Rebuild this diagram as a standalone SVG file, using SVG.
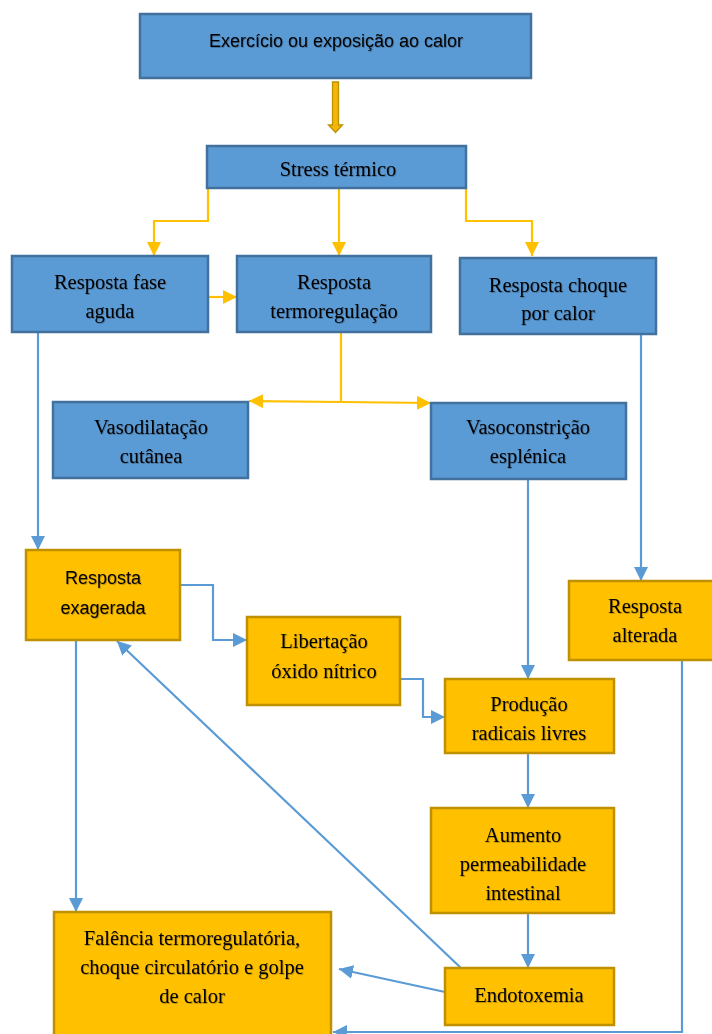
<svg xmlns="http://www.w3.org/2000/svg" width="712" height="1034" viewBox="0 0 712 1034">
<style>
.bb{fill:#5B9BD5;stroke:#41719C;stroke-width:2.5}
.yb{fill:#FFC000;stroke:#BF9000;stroke-width:2.5}
.t{font-family:"Liberation Serif","Times New Roman",serif;font-size:20.5px;fill:#000;text-anchor:middle;filter:url(#sh)}
.s{font-family:"Liberation Sans",Arial,sans-serif;font-size:18px;fill:#000;text-anchor:middle;filter:url(#sh)}
.yl{fill:none;stroke:#FFC000;stroke-width:2.2}
.bl{fill:none;stroke:#5B9BD5;stroke-width:2.2}
</style>
<defs>
<filter id="sh" x="-10%" y="-30%" width="120%" height="160%">
<feDropShadow dx="0.8" dy="0.8" stdDeviation="0.6" flood-color="#000" flood-opacity="0.3"/>
</filter>
<marker id="ay" markerUnits="userSpaceOnUse" markerWidth="14" markerHeight="14" viewBox="0 0 14 14" refX="14" refY="7" orient="auto-start-reverse">
<path d="M0,0 L14,7 L0,14 z" fill="#FFC000"/>
</marker>
<marker id="ab" markerUnits="userSpaceOnUse" markerWidth="14" markerHeight="14" viewBox="0 0 14 14" refX="14" refY="7" orient="auto-start-reverse">
<path d="M0,0 L14,7 L0,14 z" fill="#5B9BD5"/>
</marker>
</defs>
<rect width="712" height="1034" fill="#fff"/>

<g id="connectors">
<path d="M332.5,82 H338.5 V125 H342.5 L335.5,132.5 L328.5,125 H332.5 Z" fill="#F2B705" stroke="#BF9000" stroke-width="1.3"/>
<path class="yl" d="M208,188 V221 H154 V256" marker-end="url(#ay)"/>
<path class="yl" d="M339,188 V256" marker-end="url(#ay)"/>
<path class="yl" d="M466,188 V221 H532 V256" marker-end="url(#ay)"/>
<path class="yl" d="M208,297 H237" marker-end="url(#ay)"/>
<path class="yl" d="M341,332 V402"/>
<path class="yl" d="M249,401 L341,402 L431,403" marker-start="url(#ay)" marker-end="url(#ay)"/>
<path class="bl" d="M38,332 V550" marker-end="url(#ab)"/>
<path class="bl" d="M641,334 V581" marker-end="url(#ab)"/>
<path class="bl" d="M528,479 V679" marker-end="url(#ab)"/>
<path class="bl" d="M180,585 H213 V640 H247" marker-end="url(#ab)"/>
<path class="bl" d="M400,679 H423 V717 H445" marker-end="url(#ab)"/>
<path class="bl" d="M528,753 V808" marker-end="url(#ab)"/>
<path class="bl" d="M528,913 V968" marker-end="url(#ab)"/>
<path class="bl" d="M76,640 V912" marker-end="url(#ab)"/>
<path class="bl" d="M445,992 L339,969" marker-end="url(#ab)"/>
<path class="bl" d="M461,968 L117,641" marker-end="url(#ab)"/>
<path class="bl" d="M682,660 V1032 H333" marker-end="url(#ab)"/>
</g>

<g id="n-exercicio">
<rect class="bb" x="140" y="14" width="391" height="64"/>
<text class="s" x="336" y="47">Exercício ou exposição ao calor</text>
</g>
<g id="n-stress">
<rect class="bb" x="207" y="146" width="259" height="42"/>
<text class="t" x="338" y="176">Stress térmico</text>
</g>
<g id="n-fase-aguda">
<rect class="bb" x="12" y="256" width="196" height="76"/>
<text class="t" x="110" y="289">Resposta fase</text>
<text class="t" x="110" y="318">aguda</text>
</g>
<g id="n-termoregulacao">
<rect class="bb" x="237" y="256" width="194" height="76"/>
<text class="t" x="334" y="289">Resposta</text>
<text class="t" x="334" y="318">termoregulação</text>
</g>
<g id="n-choque">
<rect class="bb" x="460" y="258" width="196" height="76"/>
<text class="t" x="558" y="292">Resposta choque</text>
<text class="t" x="558" y="320">por calor</text>
</g>
<g id="n-vasodilatacao">
<rect class="bb" x="53" y="402" width="195" height="76"/>
<text class="t" x="151" y="434">Vasodilatação</text>
<text class="t" x="151" y="463">cutânea</text>
</g>
<g id="n-vasoconstricao">
<rect class="bb" x="431" y="403" width="195" height="76"/>
<text class="t" x="528" y="434">Vasoconstrição</text>
<text class="t" x="528" y="463">esplénica</text>
</g>
<g id="n-exagerada">
<rect class="yb" x="26" y="550" width="154" height="90"/>
<text class="s" x="103" y="584">Resposta</text>
<text class="s" x="103" y="614">exagerada</text>
</g>
<g id="n-alterada">
<rect class="yb" x="569" y="581" width="150" height="79"/>
<text class="t" x="645" y="613">Resposta</text>
<text class="t" x="645" y="642">alterada</text>
</g>
<g id="n-libertacao">
<rect class="yb" x="247" y="617" width="153" height="88"/>
<text class="t" x="324" y="648">Libertação</text>
<text class="t" x="324" y="678">óxido nítrico</text>
</g>
<g id="n-producao">
<rect class="yb" x="445" y="679" width="169" height="74"/>
<text class="t" x="529" y="711">Produção</text>
<text class="t" x="529" y="740">radicais livres</text>
</g>
<g id="n-aumento">
<rect class="yb" x="431" y="808" width="183" height="105"/>
<text class="t" x="523" y="842">Aumento</text>
<text class="t" x="523" y="871">permeabilidade</text>
<text class="t" x="523" y="900">intestinal</text>
</g>
<g id="n-endotoxemia">
<rect class="yb" x="445" y="968" width="169" height="57"/>
<text class="t" x="529" y="1002">Endotoxemia</text>
</g>
<g id="n-falencia">
<rect class="yb" x="54" y="912" width="277" height="130"/>
<text class="t" x="192" y="945">Falência termoregulatória,</text>
<text class="t" x="192" y="974">choque circulatório e golpe</text>
<text class="t" x="192" y="1003">de calor</text>
</g>
</svg>
